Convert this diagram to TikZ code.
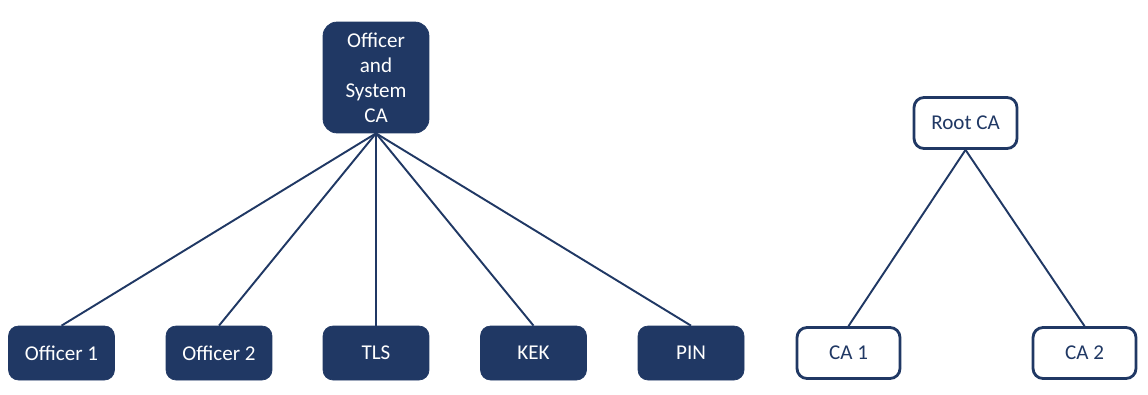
\documentclass[tikz,border=0pt]{standalone}
\usepackage{fontspec}
\setmainfont{Carlito}
\usepackage{xcolor}
\usepackage{tikz}
\usetikzlibrary{positioning}

\definecolor{pkinavy}{HTML}{203864}

\begin{document}
\begin{tikzpicture}[
  x=0.02cm, y=-0.02cm,
  every node/.style={font=\fontsize{12}{14.2}\selectfont},
  darkbox/.style={fill=pkinavy, draw=pkinavy, text=white, rounded corners=0.2cm,
                  minimum width=2.12cm, minimum height=1.08cm, inner sep=0pt},
  lightbox/.style={fill=white, draw=pkinavy, text=pkinavy, line width=1.6pt,
                   rounded corners=0.2cm, minimum width=2.06cm, minimum height=1.02cm,
                   inner sep=0pt},
  link/.style={draw=pkinavy, line width=1.1pt},
]

%% -- Canvas --------------------------------------------------------------
\useasboundingbox (0,0) rectangle (1148,395);

%% -- Left tree: Officer and System CA ------------------------------------
\node[darkbox, minimum height=2.22cm, rounded corners=0.28cm,
      align=center, text width=2.12cm] (sysca) at (376,77.5)
  {Officer\\and\\System\\CA};

\foreach \nm/\x/\lab in {off1/61.5/Officer 1, off2/219/Officer 2, tls/376/TLS,
                         kek/533.5/KEK, pin/691/PIN}{
  \node[darkbox] (\nm) at (\x,353) {\lab};
}

\foreach \nm in {off1, off2, tls, kek, pin}{
  \draw[link] (sysca.south) -- (\nm.north);
}

%% -- Right tree: Root CA -------------------------------------------------
\node[lightbox] (root) at (965.5,123) {Root CA};
\node[lightbox] (ca1)  at (848.5,353) {CA 1};
\node[lightbox] (ca2)  at (1084.5,353) {CA 2};

\draw[link] (root.south) -- (ca1.north);
\draw[link] (root.south) -- (ca2.north);

\end{tikzpicture}
\end{document}
